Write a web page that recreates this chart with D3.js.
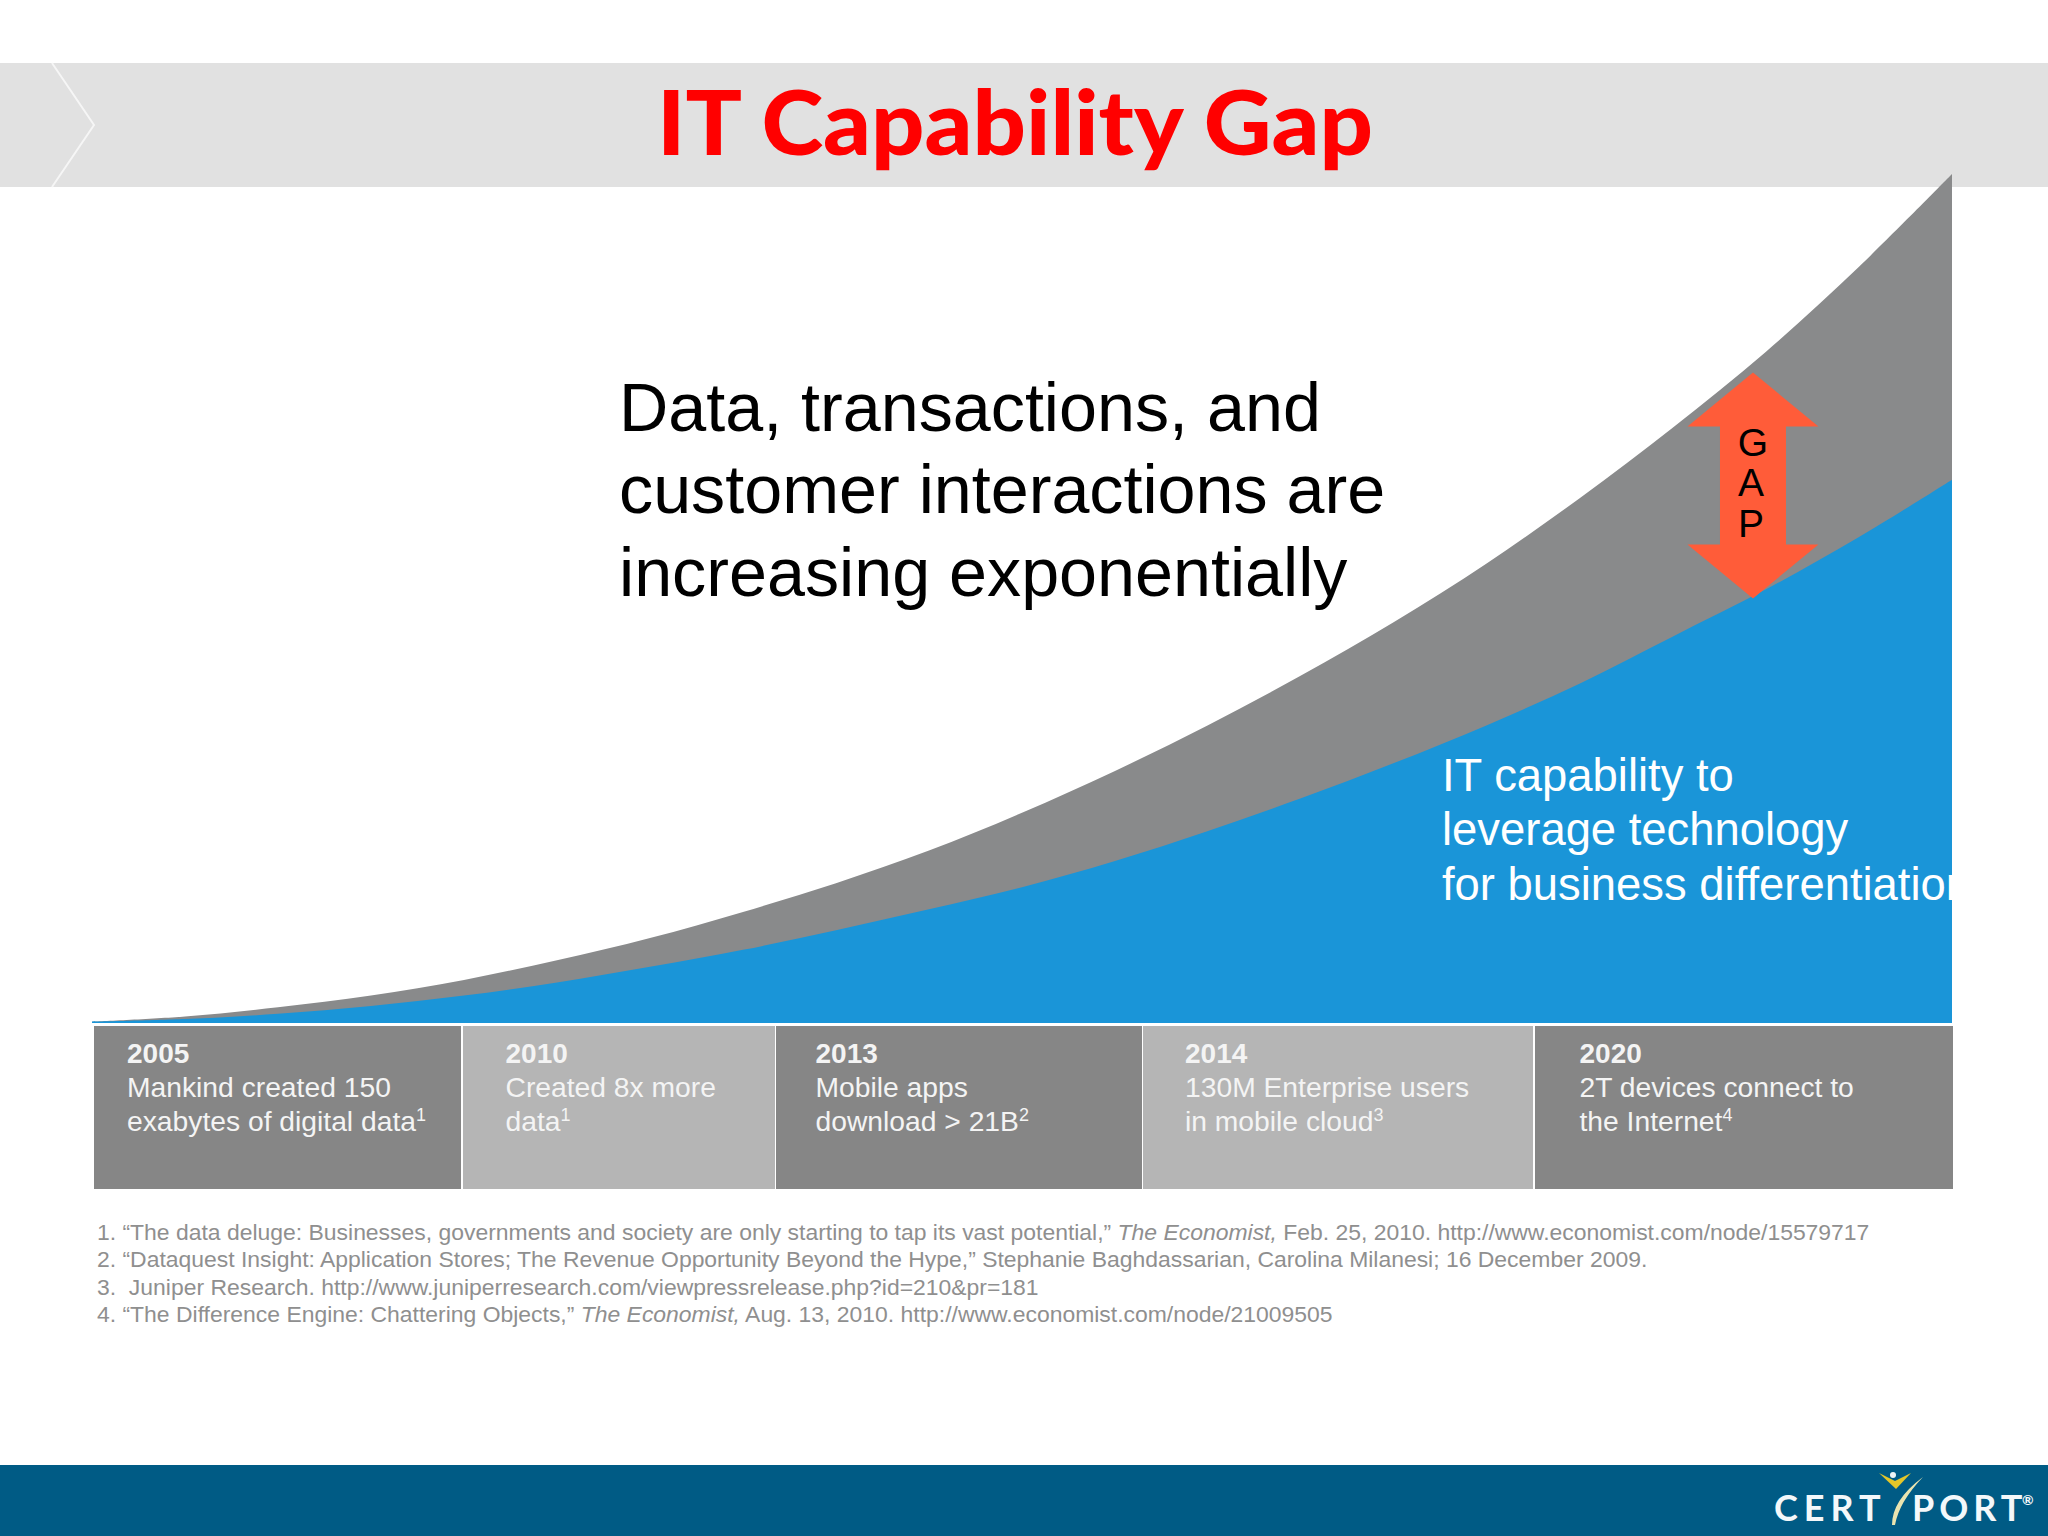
<!DOCTYPE html>
<html><head><meta charset="utf-8">
<script src="https://cdn.jsdelivr.net/npm/d3@7"></script>
<style>html,body{margin:0;padding:0;background:#fff}svg{display:block}</style>
</head><body><svg id="c" width="2048" height="1536"></svg>
<script>
const titleText = "IT Capability Gap";
const headline = ["Data, transactions, and","customer interactions are","increasing exponentially"];
const blueLabel = ["IT capability to","leverage technology","for business differentiation"];
const gapLetters = ["G","A","P"];
const progress = [0,5,10,15,20,25,30,35,40,45,50,55,60,65,70,75,80,85,90,95,100];
const dataDemand = [1,5,12,21,33,48,65,85,107,132,161,193,228,266,307,352,402,456,514,579,650];
const itCapability = [1,3,7,13,21,31,43,56,71,87,104,124,147,172,199,228,260,296,332,372,416];
const gapAtProgress = 89.3, gapTopValue = 498, gapBottomValue = 325;
const years = ["2005","2010","2013","2014","2020"];
const milestoneLine1 = ["Mankind created 150","Created 8x more","Mobile apps","130M Enterprise users","2T devices connect to"];
const milestoneLine2 = ["exabytes of digital data","data","download > 21B","in mobile cloud","the Internet"];
const milestoneRefs = ["1","1","2","3","4"];
const footnotes = [
 [["1. “The data deluge: Businesses, governments and society are only starting to tap its vast potential,” ",0],["The Economist,",1],[" Feb. 25, 2010. http://www.economist.com/node/15579717",0]],
 [["2. “Dataquest Insight: Application Stores; The Revenue Opportunity Beyond the Hype,” Stephanie Baghdassarian, Carolina Milanesi; 16 December 2009.",0]],
 [["3.  Juniper Research. http://www.juniperresearch.com/viewpressrelease.php?id=210&pr=181",0]],
 [["4. “The Difference Engine: Chattering Objects,” ",0],["The Economist,",1],[" Aug. 13, 2010. http://www.economist.com/node/21009505",0]]
];

const svg = d3.select("#c");
const sans = "'Liberation Sans', Arial, sans-serif";
const x = d3.scaleLinear().domain([0,100]).range([92,1952]);
const y = d3.scaleLinear().domain([0,650]).range([1023,174]);

// banner
svg.append("rect").attr("x",0).attr("y",63).attr("width",2048).attr("height",124).attr("fill","#e1e1e1");
svg.append("path").attr("d","M52,63L94,125L52,187").attr("fill","none").attr("stroke","#f6f6f6").attr("stroke-width",2);

// curves
const area = vals => d3.area().x((d,i)=>x(progress[i])).y0(y(0)).y1(d=>y(d)).curve(d3.curveCatmullRom.alpha(0.5))(vals);
svg.append("path").attr("d",area(dataDemand)).attr("fill","#898a8b");
svg.append("path").attr("d",area(itCapability)).attr("fill","#1a95d8");

// title & text
svg.append("text").text(titleText).attr("x",657).attr("y",155)
  .attr("textLength",716).attr("lengthAdjust","spacingAndGlyphs")
  .attr("font-family","Lato, Carlito, sans-serif").attr("font-weight",900).attr("font-size",90).attr("fill","#ff0000");
svg.append("g").selectAll("text").data(headline).join("text").text(d=>d)
  .attr("x",619).attr("y",(d,i)=>431+i*82.4).attr("font-family",sans).attr("font-size",68.25).attr("fill","#000");
svg.append("g").selectAll("text").data(blueLabel).join("text").text(d=>d)
  .attr("x",1442).attr("y",(d,i)=>790.5+i*54.5).attr("font-family",sans).attr("font-size",45.4).attr("fill","#fff");

// gap arrow
const ax = x(gapAtProgress), at = y(gapTopValue), ab = y(gapBottomValue);
const hw = 65.5, sw = 33, hh = 54;
svg.append("path").attr("fill","#ff5c39").attr("d",d3.line()([
 [ax,at],[ax+hw,at+hh],[ax+sw,at+hh],[ax+sw,ab-hh],[ax+hw,ab-hh],[ax,ab],[ax-hw,ab-hh],[ax-sw,ab-hh],[ax-sw,at+hh],[ax-hw,at+hh]
])+"Z");
svg.append("g").selectAll("text").data(gapLetters).join("text").text(d=>d)
  .attr("x",(d,i)=>ax-(i?2:0)).attr("y",(d,i)=>at+83+i*40.5).attr("text-anchor","middle")
  .attr("font-family",sans).attr("font-size",39).attr("fill","#000");

// milestones
const edges = [[94,461],[463,775],[776,1142],[1143,1533],[1535,1953]];
const textX = [127,505.5,815.5,1185,1579.5];
const cells = svg.append("g").selectAll("g").data(years).join("g");
cells.append("rect").attr("x",(d,i)=>edges[i][0]).attr("width",(d,i)=>edges[i][1]-edges[i][0])
  .attr("y",1026).attr("height",163).attr("fill",(d,i)=>i%2?"#b5b5b5":"#868686");
cells.append("text").text(d=>d).attr("x",(d,i)=>textX[i]).attr("y",1063)
  .attr("font-family",sans).attr("font-weight",700).attr("font-size",28).attr("fill","#f4f4f4");
cells.append("text").text((d,i)=>milestoneLine1[i]).attr("x",(d,i)=>textX[i]).attr("y",1097)
  .attr("font-family",sans).attr("font-size",28.25).attr("fill","#f4f4f4");
const l2 = cells.append("text").attr("x",(d,i)=>textX[i]).attr("y",1131)
  .attr("font-family",sans).attr("font-size",28.25).attr("fill","#f4f4f4");
l2.append("tspan").text((d,i)=>milestoneLine2[i]);
l2.append("tspan").text((d,i)=>milestoneRefs[i]).attr("font-size",18).attr("dy",-10);

// footnotes
const fn = svg.append("g").selectAll("text").data(footnotes).join("text")
  .attr("x",97).attr("y",(d,i)=>1240+i*27.3).attr("font-family",sans).attr("font-size",22.93).attr("fill","#8f8f8f").style("white-space","pre");
fn.selectAll("tspan").data(d=>d).join("tspan").text(d=>d[0]).attr("font-style",d=>d[1]?"italic":"normal");

// footer
svg.append("rect").attr("x",0).attr("y",1465).attr("width",2048).attr("height",71).attr("fill","#005b85");
const logo = svg.append("g").attr("font-family","Lato, sans-serif").attr("font-weight",700).attr("fill","#f4f8fa").attr("font-size",36);
logo.append("text").text("CERT").attr("x",1774).attr("y",1521).attr("letter-spacing",6);
logo.append("text").text("PORT").attr("x",1912).attr("y",1521).attr("letter-spacing",5);
logo.append("text").text("®").attr("x",2022).attr("y",1505).attr("font-size",14);
svg.append("path").attr("d","M1879,1473L1895,1481L1911,1473L1896,1489Z").attr("fill","#e3c62a");
svg.append("circle").attr("cx",1893).attr("cy",1475).attr("r",3).attr("fill","#eef4f7");
svg.append("path").attr("d","M1892,1525Q1892,1500 1923,1477Q1899,1502 1895,1525Z").attr("fill","#e9e4b0");
</script></body></html>
